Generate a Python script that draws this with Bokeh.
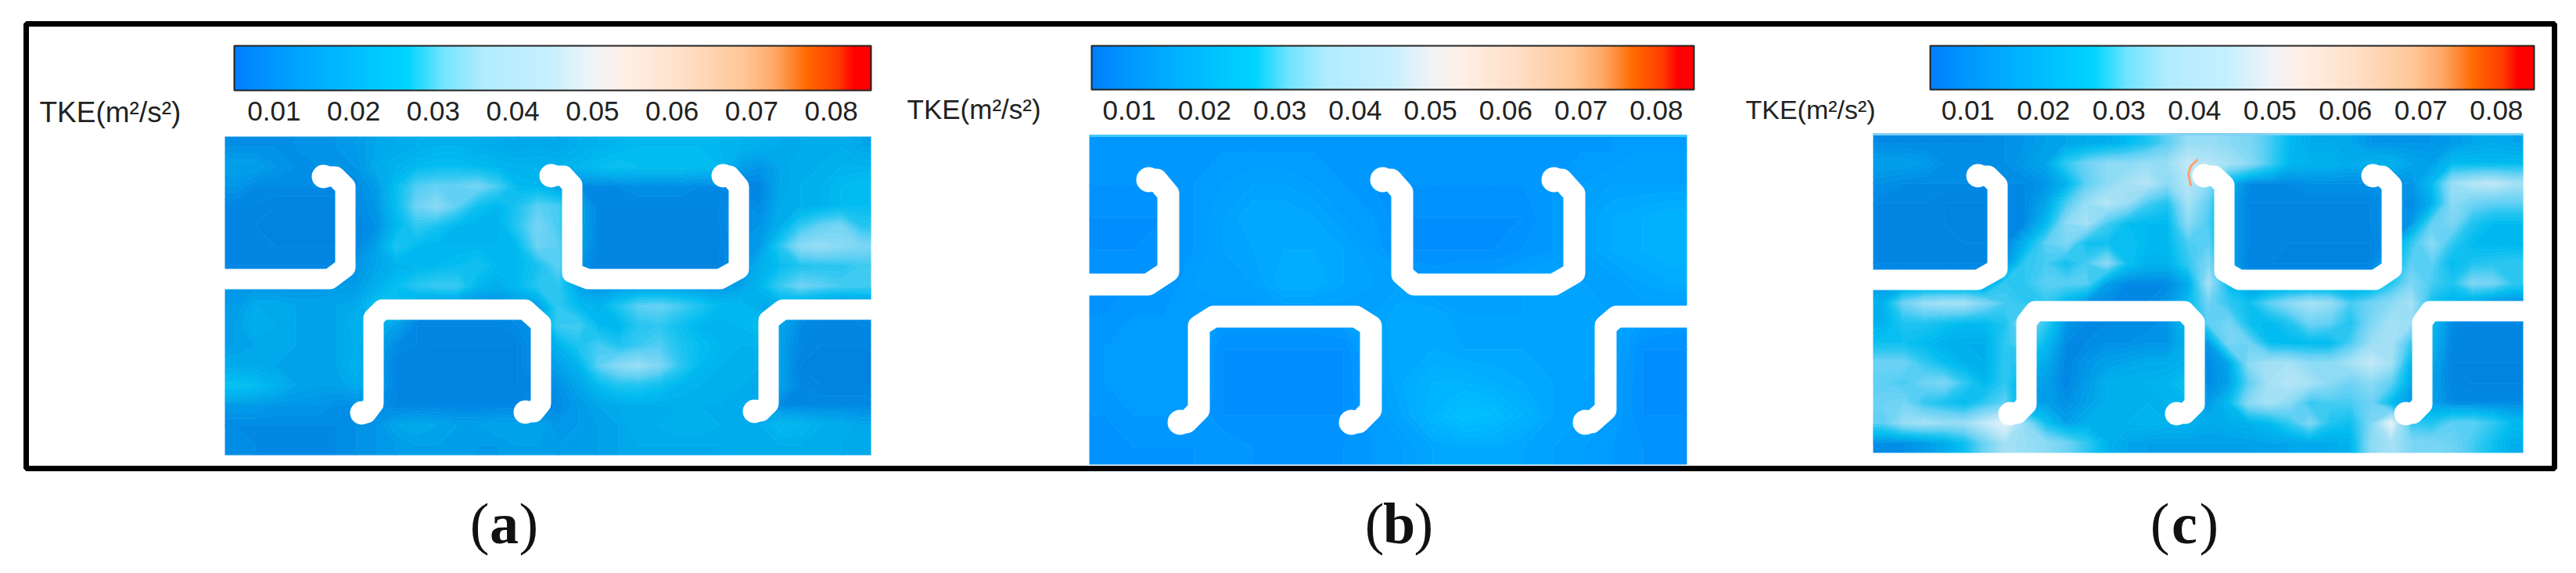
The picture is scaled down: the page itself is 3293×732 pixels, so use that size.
from bokeh.plotting import figure
from bokeh.models import LinearColorMapper, ColorBar, FixedTicker, Range1d
from bokeh.core.properties import value
from bokeh.embed import file_html
from bokeh.resources import INLINE
import numpy as np

# ---------- data (TKE in 0.001 m2/s2, rows top to bottom) ----------
tke_a = [
 [11,11,11,11,12,12,13,15,16,17,18,18,17,16,15,16, 15,17,18,19,20,20,20,20,19,18,17,16,16,17,17,15],
 [14,14,12,11,11,11,12,16,18,20,21,21,20,19,18,18, 18,19,21,22,21,21,21,21,20,14,12,15,17,17,18,18],
 [12,10,10,10,10,10,10,13,21,29,31,31,33,28,20,19, 14,10,10,10,11,11,11,10,10, 9, 9,15,17,18,20,21],
 [ 9, 9, 8, 8, 8, 8,10,12,21,32,36,30,22,19,24,30, 28,15, 9, 9, 9, 9, 9, 9, 9,12,10,16,17,18,20,21],
 [ 9, 8, 8, 8, 8, 8, 9,11,19,26,23,19,18,18,25,33, 28,15, 9, 9, 9, 9, 9, 9, 9,12,12,17,26,31,33,25],
 [ 9, 9, 8, 8, 8, 8, 9,14,24,20,19,19,19,19,20,32, 30,14, 9, 8, 8, 8, 8, 8, 8,12,13,25,36,38,36,34],
 [ 9, 9, 9, 9, 9, 9,12,15,18,19,20,21,23,20,20,23, 30,12, 8, 8, 8, 8, 8, 8, 8,12,17,21,24,25,25,27],
 [12,12,12,12,12,13,13,17,21,25,27,27,19,17,20,25, 26,14,12,12,12,12,12,12,12,14,19,27,32,30,28,28],
 [13,16,16,15,15,15,16,22,22,13,10,10,10,10,12,14, 26,20,18,24,30,31,28,24,20,20,16,16,14,10, 9,10],
 [14,17,16,15,15,15,18,18,14, 9, 9, 9, 9, 9,10,12, 27,28,20,19,25,26,22,19,18,19,21,15,10, 9, 9, 9],
 [14,15,16,15,15,15,17,14,10, 9, 8, 8, 8, 8, 8,12, 18,24,28,24,27,29,24,21,19,18,18,14, 9, 8, 8, 8],
 [16,16,15,15,15,15,18,14, 8, 8, 8, 8, 8, 8, 8,12, 14,18,30,36,38,34,26,20,18,18,17,14, 8, 8, 8, 8],
 [22,21,18,15,14,14,16,14, 9, 8, 8, 8, 8, 8, 8, 9, 11,15,20,24,24,22,19,18,18,17,15,14, 9, 8, 8, 8],
 [13,13,12,12,12,11,11,11, 9, 9, 9, 9, 9, 9, 9,10, 10,13,15,16,17,17,17,17,17,17,15,10,10,10,10,10],
 [10,10,10,10,10,10,11,12,15,16,15,14,14,15,15,15, 12,13,14,15,17,17,18,18,17,17,17,20,19,17,17,15],
 [11,10,10,10,10,10,11,12,13,14,14,14,13,13,14,14, 13,14,14,15,16,16,16,16,16,17,17,17,17,17,16,16],
]
tke_b = [
 [11,11,11,11,11,11,11,11,11,11,11,11,11,11,11,11,11,11,12,12],
 [10,10,10,11,12,13,13,12,11,10,10,10,10,10,10,11,12,13,13,13],
 [ 9, 9, 9,11,13,15,15,14,12,11, 9, 9, 9, 9, 9,11,13,15,16,17],
 [ 9, 9,10,11,13,14,15,15,14,12, 9, 9, 9, 9,10,11,13,15,16,17],
 [10,10,10,12,13,13,16,16,14,13,13,11,12,12,13,14,13,12,14,15],
 [10,11,11,12,11,11,11,11,12,13,15,15,13,13,13,14,14,13,12,11],
 [11,12,12,12, 9, 9, 9, 9, 9,13,15,15,14,14,14,14,14,13, 9, 9],
 [11,12,12,12, 9, 9, 9, 9, 9,12,15,17,17,16,15,14,13,12, 9, 9],
 [10,11,11,11, 9, 9, 9, 9, 9,11,14,18,21,20,17,14,13,12, 9, 9],
 [10,10,10,10,11,10,10,10,10,11,12,14,15,15,14,13,12,11,10,10],
]
tke_c = [
 [10,10,10,10,10,10,11,12,14,15,16,17,20,24,30,38, 38,36,34,28,20,16,16,15,12,12,12,12,13,15,16,15],
 [14,14,13,11,11,11,11,13,15,26,32,36,36,38,38,44, 42,40,36,28,19,18,18,16,18,18,15,14,20,20,20,20],
 [11,10,10,10,10,10,10,10,12,18,30,36,40,42,36,42, 36,18,10,10,10,11,11,11,11,12,12,20,38,42,44,40],
 [ 9, 9, 9, 8, 8, 8, 9,10,15,28,38,42,38,28,24,40, 30,15, 9, 9, 9, 9, 9, 9, 9,12,10,17,36,32,30,30],
 [ 9, 9, 9, 8, 8, 8, 9,10,19,36,40,28,21,20,20,36, 28,15, 9, 9, 9, 9, 9, 9, 9,12,12,30,34,24,20,20],
 [ 9, 9, 9, 9, 8, 8, 9,18,30,34,22,22,22,20,20,28, 30,15, 9, 9, 8, 8, 8, 8, 8,12,26,36,26,20,19,19],
 [ 9, 9, 9, 9, 9, 9,11,26,28,22,28,36,22,18,18,26, 34,15, 8, 8, 8, 8, 8, 8, 8,18,30,30,20,24,25,26],
 [12,12,12,12,12,12,26,26,30,30,30,14,10,10,10,16, 40,20,12,12,12,12,12,12,14,24,34,28,24,34,33,26],
 [18,32,38,40,40,34,28,26,26,18,10,10,10,10,12,20, 32,26,22,30,36,40,38,28,32,36,40,22,18,15,10,10],
 [18,24,24,22,20,20,24,36,26,12,10,10,10,10,12,20, 30,33,22,20,24,32,30,24,34,40,38,20,10, 9, 9, 9],
 [22,22,20,18,17,17,26,30,20,10,10,11,11,12,12,18, 12,34,32,21,20,20,20,28,38,40,26,18, 9, 9, 9, 9],
 [32,32,26,21,18,17,26,22,16, 9,12,14,15,16,16,18, 10,15,36,40,40,36,36,40,44,40,18,16, 8, 8, 8, 8],
 [30,28,32,34,26,19,26,15,14, 9,13,17,18,18,19,22, 10,14,30,40,42,40,36,32,36,30,15,14, 9, 8, 8, 8],
 [32,33,26,23,20,26,30,13,14,11,14,17,18,18,18,19, 13,20,36,40,36,26,28,28,32,20,12,14,10,10,10,10],
 [30,38,40,38,38,44,50,36,22,14,17,18,18,19,18,18, 16,17,18,20,26,34,24,22,34,50,26,24,30,30,26,20],
 [11,11,13,16,22,32,40,38,36,32,26,18,15,14,14,14, 14,14,14,15,15,16,16,18,36,40,34,34,32,28,22,17],
]
tick_values = [0.01, 0.02, 0.03, 0.04, 0.05, 0.06, 0.07, 0.08]
tick_labels = {v: f"{v:.2f}" for v in tick_values}
tke_low, tke_high = 0.005, 0.085
unit_label = "TKE(m\u00b2/s\u00b2)"
panel_letters = ["a", "b", "c"]

# colour scale stops
bar_stops = [(.005,"#007fff"),(.0093,"#0095ff"),(.017,"#00b5ff"),(.0265,"#00d4ff"),(.0286,"#30dcff"),(.031,"#70e4ff"),
             (.036,"#b0ecff"),(.0447,"#c8f0ff"),(.05,"#f0f4f8"),(.054,"#fff0e8"),(.0614,"#ffe0c8"),(.069,"#ffc898"),
             (.073,"#ffa868"),(.077,"#ff6a00"),(.081,"#ff3c00"),(.083,"#ff0000"),(.085,"#ff0000")]
field_stops = [(.005,"#0080dc"),(.009,"#0088e4"),(.015,"#00a8ec"),(.02,"#00bcf0"),(.026,"#30c8f2"),(.03,"#60d0f4"),
               (.04,"#a8e2f6"),(.05,"#e8f4fa")] + bar_stops[9:]

# fin centre lines in reference-picture coordinates
fins_a = [
 ([287,421,441,441,428,413],[356,356,341,238,225,225]),
 ([704,720,731,731,751,920,944,944,932,924],[224,224,236,348,356,356,343,238,224,224]),
 ([462,468,477,477,488,671,691,691,682,671],[527,527,515,406,395,395,413,515,526,526]),
 ([964,972,982,982,1000,1113],[525,525,515,409,395,395]),
]
fins_b = [
 ([1392,1467,1493,1493,1478,1468],[363,363,346,247,229,229]),
 ([1767,1778,1792,1792,1807,1986,2012,2012,1996,1986],[229,229,245,350,363,363,348,247,229,229]),
 ([1508,1516,1532,1532,1551,1733,1752,1752,1736,1727],[539,539,523,416,404,404,416,523,539,539]),
 ([2026,2034,2052,2052,2066,2156],[539,539,523,416,404,404]),
]
fins_c = [
 ([2394,2528,2553,2553,2541,2528],[357,357,343,236,224,224]),
 ([2817,2830,2843,2843,2862,3036,3057,3057,3045,3033],[224,224,236,346,357,357,343,236,224,224]),
 ([2569,2578,2590,2590,2601,2792,2805,2805,2793,2782],[528,528,516,411,397,397,411,516,528,528]),
 ([3075,3084,3096,3096,3106,3225],[528,528,516,411,397,397]),
]
hot_x, hot_y = [2808,2800,2797,2800], [204,212,222,236]

def ramp(stops, n=256):
    xs = np.array([s[0] for s in stops])
    rgb = np.array([[int(s[1][i:i+2],16) for i in (1,3,5)] for s in stops], float)
    q = np.linspace(tke_low, tke_high, n)
    out = np.stack([np.interp(q, xs, rgb[:,k]) for k in range(3)], 1).astype(int)
    return ["#%02x%02x%02x" % tuple(c) for c in out]

bar_mapper = LinearColorMapper(palette=ramp(bar_stops), low=tke_low, high=tke_high)
levels = list(np.linspace(tke_low, tke_high, 81))

W, H = 3277, 716
p = figure(width=W, height=H, output_backend="svg", toolbar_location=None,
           x_range=Range1d(0, W), y_range=Range1d(H, 0), min_border=0,
           outline_line_color=None, background_fill_color="white", border_fill_color="white")
p.axis.visible = False
p.grid.visible = False

panels = [
 dict(field=tke_a, stops=field_stops, box=(287,174,826,407), fins=fins_a, lw=26, edge=None,
      bar=(299,55,814,57), unit_x=50, unit_y=143, unit_size=37, cap=644),
 dict(field=tke_b, stops=bar_stops, box=(1392,172,764,421), fins=fins_b, lw=28, edge="#40c8ff",
      bar=(1395,55,770,56), unit_x=1159, unit_y=139, unit_size=35, cap=1788),
 dict(field=tke_c, stops=field_stops, box=(2394,170,831,408), fins=fins_c, lw=26, edge="#80d0f4",
      bar=(2467,55,772,56), unit_x=2231, unit_y=139, unit_size=34, cap=2792),
]
cap_font = value("Liberation Serif")
cap_y = 668
for pn, letter in zip(panels, panel_letters):
    x0, y0, w, h = pn["box"]
    z = np.pad(np.array(pn["field"], float)*0.001, 1, mode="edge")
    nr, nc = z.shape[0]-2, z.shape[1]-2
    xs = np.concatenate([[x0], x0+(np.arange(nc)+.5)*w/nc, [x0+w]])
    ys = np.concatenate([[y0], y0+(np.arange(nr)+.5)*h/nr, [y0+h]])
    p.contour(xs, ys, z, levels=levels, fill_color=ramp(pn["stops"], 80), fill_alpha=1,
              line_color=ramp(pn["stops"], 81), line_width=1, line_alpha=1)
    if pn["edge"]:
        p.segment([x0], [y0+1], [x0+w], [y0+1], line_color=pn["edge"], line_width=3)
    p.multi_line([f[0] for f in pn["fins"]], [f[1] for f in pn["fins"]], line_color="white",
                 line_width=pn["lw"], line_join="round", line_cap="round")
    f = pn["fins"]
    p.circle([f[0][0][-1], f[1][0][0], f[1][0][-1], f[2][0][0], f[2][0][-1], f[3][0][0]],
             [f[0][1][-1], f[1][1][0], f[1][1][-1], f[2][1][0], f[2][1][-1], f[3][1][0]],
             radius=pn["lw"]/2+2, fill_color="white", line_color=None)
    bx, by, bw, bh = pn["bar"]
    cb = ColorBar(color_mapper=bar_mapper, orientation="horizontal", width=bw, height=bh,
                  location=(bx, H-by-bh-44), ticker=FixedTicker(ticks=tick_values),
                  major_label_overrides=tick_labels, major_label_text_font="Liberation Sans",
                  major_label_text_font_size="35px", major_label_text_color="#222222",
                  major_tick_line_color=None, minor_tick_line_color=None, bar_line_color="#222222",
                  bar_line_width=2, border_line_color=None, background_fill_alpha=0, padding=0,
                  label_standoff=14, margin=0, title=None)
    p.add_layout(cb)
    p.text([pn["unit_x"]], [pn["unit_y"]], text=[unit_label], text_font=value("Liberation Sans"),
           text_font_size=f'{pn["unit_size"]}px', text_color="#222222", text_baseline="middle", text_align="left")
    cx = pn["cap"]
    p.text([cx-19], [cap_y], text=["("], text_font=cap_font, text_font_size="74px",
           text_color="#111111", text_align="right", text_baseline="alphabetic")
    p.text([cx], [cap_y], text=[letter], text_font=cap_font, text_font_size="74px",
           text_font_style="bold", text_color="#111111", text_align="center", text_baseline="alphabetic")
    p.text([cx+19], [cap_y], text=[")"], text_font=cap_font, text_font_size="74px",
           text_color="#111111", text_align="left", text_baseline="alphabetic")

p.line(hot_x, hot_y, line_color="#ffa070", line_width=3, line_cap="round")
p.quad(left=[33], right=[3265], top=[30], bottom=[598], fill_alpha=0, line_color="black", line_width=7)

open("out.html", "w").write(file_html(p, INLINE))
